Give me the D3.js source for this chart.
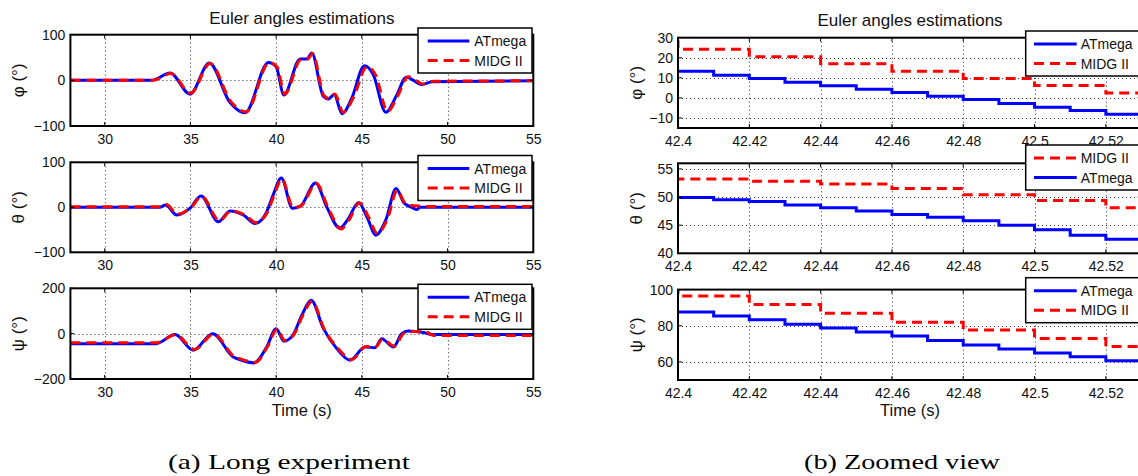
<!DOCTYPE html>
<html><head><meta charset="utf-8">
<script src="https://cdn.jsdelivr.net/npm/d3@7"></script>
<style>body{margin:0;background:#fff} svg{display:block}</style>
</head><body>
<svg id="c" width="1138" height="476"></svg>
<script>
// ---------------- DATA: (a) long experiment ----------------
const longXTicks = [30, 35, 40, 45, 50, 55];
const longXLabels = ["30", "35", "40", "45", "50", "55"];
const angYTicks = [-100, 0, 100];
const angYLabels = ["\u2212100", "0", "100"];
const psiYTicks = [-200, 0, 200];
const psiYLabels = ["\u2212200", "0", "200"];

const phiT_AT   = [28, 32.74, 33.81, 34.98, 36.1, 37.3, 38.19, 39.55, 40.0, 40.45, 41.4, 41.8, 42.08, 42.75, 43.05, 43.38, 43.85, 44.4, 45.15, 45.65, 46.4, 47.0, 47.6, 48.5, 49.1, 55];
const phiV_AT   = [0, 0, 16, -30, 38, -48, -71, 39, 30, -32, 47, 47, 60, -35, -41, -31, -73, -40, 32, 14, -70, -35, 7, -9, -3, -1];
const phiT_MIDG = [28, 32.8, 33.86, 35.02, 36.15, 37.35, 38.25, 39.6, 40.05, 40.5, 41.45, 41.85, 42.12, 42.8, 43.1, 43.42, 43.92, 44.5, 45.3, 45.8, 46.5, 47.1, 47.7, 48.6, 49.2, 55];
const phiV_MIDG = [0, 0, 15, -28, 37, -46, -69, 39, 30, -30, 46, 47, 59, -34, -40, -30, -70, -38, 30, 12, -68, -33, 8, -8, -2, -1];

const thT_AT   = [28, 33.2, 33.56, 34.2, 34.98, 35.62, 36.63, 37.31, 38.09, 38.77, 39.45, 39.85, 40.3, 40.95, 41.4, 42.3, 42.95, 43.7, 44.2, 44.8, 45.35, 45.8, 46.4, 47.0, 47.45, 47.85, 48.2, 48.4, 55];
const thV_AT   = [0, 0, 5, -17, -2, 25, -32, -8, -17, -36, -10, 30, 65, -2, 2, 54, 1, -46, -26, 10, -26, -62, -28, 42, 10, 1, -5, 0, 0];
const thT_MIDG = [28, 33.2, 33.6, 34.25, 35.02, 35.66, 36.7, 37.36, 38.14, 38.85, 39.5, 39.9, 40.33, 41.0, 41.45, 42.35, 43.0, 43.8, 44.25, 44.86, 45.42, 45.9, 46.5, 47.06, 47.5, 47.9, 48.3, 48.6, 55];
const thV_MIDG = [1, 1, 6, -15, -1, 24, -30, -8, -16, -34, -10, 29, 63, -1, 3, 53, 2, -48, -28, 10, -24, -58, -25, 38, 10, 4, 3, 2, 2];

const psT_AT   = [28, 33.0, 34.1, 35.17, 36.3, 37.5, 37.9, 38.71, 39.45, 40.0, 40.46, 40.95, 41.5, 42.04, 42.76, 43.54, 44.31, 45.19, 45.77, 46.16, 46.84, 47.33, 47.71, 48.59, 49.08, 55];
const psV_AT   = [-44, -44, -4, -73, 0, -103, -115, -129, -59, 22, -33, -10, 81, 147, 22, -66, -117, -59, -62, -22, -59, 0, 12, 5, -4, -4];
const psT_MIDG = [28, 33.0, 34.15, 35.25, 36.35, 37.55, 37.95, 38.8, 39.5, 40.05, 40.5, 41.0, 41.55, 42.1, 42.8, 43.6, 44.4, 45.25, 45.8, 46.2, 46.9, 47.4, 47.8, 48.7, 49.2, 55];
const psV_MIDG = [-40, -40, -5, -70, -2, -100, -112, -126, -57, 20, -30, -8, 80, 143, 20, -64, -114, -57, -58, -24, -56, -2, 10, 8, -8, -8];

// ---------------- DATA: (b) zoomed view ----------------
const zoomXTicks = [42.4, 42.42, 42.44, 42.46, 42.48, 42.5, 42.52];
const zoomXLabels = ["42.4", "42.42", "42.44", "42.46", "42.48", "42.5", "42.52"];
const zPhiYTicks = [-10, 0, 10, 20, 30];
const zPhiYLabels = ["\u221210", "0", "10", "20", "30"];
const zThYTicks = [40, 45, 50, 55];
const zThYLabels = ["40", "45", "50", "55"];
const zPsYTicks = [60, 80, 100];
const zPsYLabels = ["60", "80", "100"];

const zT_AT   = [42.40, 42.41, 42.42, 42.43, 42.44, 42.45, 42.46, 42.47, 42.48, 42.49, 42.50, 42.51, 42.52, 42.54];
const zT_MIDG = [42.39, 42.40, 42.42, 42.44, 42.46, 42.48, 42.50, 42.52, 42.54];

const zPhi_AT   = [13.3, 11.3, 9.7, 7.8, 6.0, 4.3, 2.7, 0.8, -0.8, -2.8, -4.7, -6.3, -8.2, -8.2];
const zPhi_MIDG = [28, 24.3, 20.5, 17.0, 13.3, 9.7, 6.2, 2.5, 2.5];
const zTh_AT    = [49.9, 49.5, 49.2, 48.6, 48.1, 47.5, 46.9, 46.4, 45.8, 45.0, 44.2, 43.2, 42.5, 42.5];
const zTh_MIDG  = [53.2, 53.2, 52.8, 52.3, 51.5, 50.4, 49.4, 48.1, 48.1];
const zPs_AT    = [87.6, 85.4, 83.3, 80.9, 78.7, 76.5, 74.3, 71.9, 69.4, 67.2, 65.0, 62.8, 60.6, 60.6];
const zPs_MIDG  = [101, 96.5, 91.7, 86.9, 82.0, 77.6, 73.0, 68.5, 68.5];

const seriesNames = ["ATmega", "MIDG II"];
const chartTitle = "Euler angles estimations";
const xLabel = "Time (s)";
const yLabels = ["\u03c6 (\u00b0)", "\u03b8 (\u00b0)", "\u03c8 (\u00b0)"];
const captions = ["(a) Long experiment", "(b) Zoomed view"];

// ---------------- RENDER ----------------
const SANS = "'Liberation Sans', Arial, Helvetica, sans-serif";
const SERIF = "'Liberation Serif', 'Times New Roman', serif";
const BLUE = "#0000ff", RED = "#ff0000";
const svg = d3.select("#c");
const defs = svg.append("defs");
let clipN = 0;

function zip(ts, vs) { return ts.map((t, i) => ({ t, v: vs[i] })); }

function panel(cfg) {
  const x = d3.scaleLinear().domain(cfg.xDomain).range([cfg.x0, cfg.x1]);
  const y = d3.scaleLinear().domain(cfg.yDomain).range([cfg.y1, cfg.y0]);
  const id = "clip" + (clipN++);
  defs.append("clipPath").attr("id", id).append("rect")
    .attr("x", cfg.x0).attr("y", cfg.y0).attr("width", cfg.x1 - cfg.x0).attr("height", cfg.y1 - cfg.y0);
  const g = svg.append("g");

  // grid
  const grid = g.append("g").attr("stroke", "#333").attr("stroke-width", 1).attr("stroke-dasharray", "1,3");
  grid.selectAll("line.gx").data(cfg.xTicks.filter(d => x(d) > cfg.x0 + 1 && x(d) < cfg.x1 - 1)).join("line")
    .attr("x1", d => Math.round(x(d)) + 0.5).attr("x2", d => Math.round(x(d)) + 0.5).attr("y1", cfg.y0).attr("y2", cfg.y1);
  grid.selectAll("line.gy").data(cfg.yTicks.filter(d => y(d) > cfg.y0 + 1 && y(d) < cfg.y1 - 1)).join("line")
    .attr("y1", d => Math.round(y(d)) + 0.5).attr("y2", d => Math.round(y(d)) + 0.5).attr("x1", cfg.x0).attr("x2", cfg.x1);

  // lines
  const lg = g.append("g").attr("clip-path", `url(#${id})`);
  cfg.series.forEach(s => {
    const line = d3.line().x(d => x(d.t)).y(d => y(d.v)).curve(s.curve);
    lg.append("path").datum(s.data).attr("d", line).attr("fill", "none")
      .attr("stroke", s.color).attr("stroke-width", 3)
      .attr("stroke-dasharray", s.dash ? "10,6" : null);
  });

  // axes labels
  const fmtX = d => cfg.xLabels[cfg.xTicks.indexOf(d)];
  const fmtY = d => cfg.yLabels[cfg.yTicks.indexOf(d)];
  const ax = g.append("g").attr("transform", `translate(0,${cfg.y1})`)
    .call(d3.axisBottom(x).tickValues(cfg.xTicks).tickFormat(fmtX).tickSize(0).tickPadding(8));
  const ay = g.append("g").attr("transform", `translate(${cfg.x0},0)`)
    .call(d3.axisLeft(y).tickValues(cfg.yTicks).tickFormat(fmtY).tickSize(0).tickPadding(5));
  [ax, ay].forEach(a => {
    a.select(".domain").remove();
    a.selectAll("text").attr("font-family", SANS).attr("font-size", 14).attr("fill", "#111");
  });

  // inner tick marks
  const tk = g.append("g").attr("stroke", "#000").attr("stroke-width", 1);
  cfg.xTicks.forEach(d => {
    const xx = x(d);
    tk.append("line").attr("x1", xx).attr("x2", xx).attr("y1", cfg.y1).attr("y2", cfg.y1 - 4);
    tk.append("line").attr("x1", xx).attr("x2", xx).attr("y1", cfg.y0).attr("y2", cfg.y0 + 4);
  });
  cfg.yTicks.forEach(d => {
    const yy = y(d);
    tk.append("line").attr("y1", yy).attr("y2", yy).attr("x1", cfg.x0).attr("x2", cfg.x0 + 4);
    tk.append("line").attr("y1", yy).attr("y2", yy).attr("x1", cfg.x1).attr("x2", cfg.x1 - 4);
  });

  // frame
  g.append("rect").attr("x", cfg.x0).attr("y", cfg.y0).attr("width", cfg.x1 - cfg.x0).attr("height", cfg.y1 - cfg.y0)
    .attr("fill", "none").attr("stroke", "#000").attr("stroke-width", 2);

  // y label
  g.append("text").attr("transform", `translate(${cfg.ylx},${(cfg.y0 + cfg.y1) / 2}) rotate(-90)`)
    .attr("text-anchor", "middle").attr("dominant-baseline", "central")
    .attr("font-family", SANS).attr("font-size", 17).attr("fill", "#111").text(cfg.ylabel);

  // legend
  const L = cfg.legend;
  const lgd = g.append("g");
  lgd.append("rect").attr("x", L.x).attr("y", L.y).attr("width", L.w).attr("height", L.h)
    .attr("fill", "#fff").attr("stroke", "#000").attr("stroke-width", 1.5);
  L.items.forEach((it, i) => {
    const ry = L.y + 13 + i * 19.5;
    lgd.append("line").attr("x1", L.x + L.s0).attr("x2", L.x + L.s1).attr("y1", ry).attr("y2", ry)
      .attr("stroke", it.color).attr("stroke-width", 3).attr("stroke-dasharray", it.dash ? "10,6" : null);
    lgd.append("text").attr("x", L.x + L.tx).attr("y", ry).attr("dominant-baseline", "central")
      .attr("font-family", SANS).attr("font-size", 14).attr("fill", "#111").text(it.name);
  });
}

const sAT = { color: BLUE, dash: false, name: seriesNames[0] };
const sMI = { color: RED, dash: true, name: seriesNames[1] };

// ----- left column -----
const leftPanels = [
  { y0: 34.7, y1: 126, yDomain: [-100, 100], yTicks: angYTicks, yLabels: angYLabels, at: zip(phiT_AT, phiV_AT), mi: zip(phiT_MIDG, phiV_MIDG), ly: 28, label: yLabels[0] },
  { y0: 162.3, y1: 252.3, yDomain: [-100, 100], yTicks: angYTicks, yLabels: angYLabels, at: zip(thT_AT, thV_AT), mi: zip(thT_MIDG, thV_MIDG), ly: 155.5, label: yLabels[1] },
  { y0: 288.3, y1: 379, yDomain: [-200, 200], yTicks: psiYTicks, yLabels: psiYLabels, at: zip(psT_AT, psV_AT), mi: zip(psT_MIDG, psV_MIDG), ly: 284.3, label: yLabels[2] }
];
leftPanels.forEach(p => panel({
  x0: 70.4, x1: 533.3, y0: p.y0, y1: p.y1, xDomain: [28, 55], yDomain: p.yDomain,
  xTicks: longXTicks, xLabels: longXLabels, yTicks: p.yTicks, yLabels: p.yLabels,
  series: [
    { ...sAT, data: p.at, curve: d3.curveMonotoneX },
    { ...sMI, data: p.mi, curve: d3.curveMonotoneX }
  ],
  ylx: 18.5, ylabel: p.label,
  legend: { x: 418, y: p.ly, w: 114, h: 45, s0: 9.7, s1: 51.3, tx: 56.3, items: [sAT, sMI] }
}));

// ----- right column -----
const rightPanels = [
  { y0: 37.7, y1: 128, yDomain: [-15, 30], yTicks: zPhiYTicks, yLabels: zPhiYLabels, at: zPhi_AT, mi: zPhi_MIDG, ly: 31, items: [sAT, sMI], label: yLabels[0] },
  { y0: 163.3, y1: 253.3, yDomain: [40, 56], yTicks: zThYTicks, yLabels: zThYLabels, at: zTh_AT, mi: zTh_MIDG, ly: 145, items: [sMI, sAT], label: yLabels[1] },
  { y0: 289.6, y1: 380, yDomain: [50, 100], yTicks: zPsYTicks, yLabels: zPsYLabels, at: zPs_AT, mi: zPs_MIDG, ly: 277.7, items: [sAT, sMI], label: yLabels[2] }
];
rightPanels.forEach(p => panel({
  x0: 678, x1: 1141.5, y0: p.y0, y1: p.y1, xDomain: [42.4, 42.53], yDomain: p.yDomain,
  xTicks: zoomXTicks, xLabels: zoomXLabels, yTicks: p.yTicks, yLabels: p.yLabels,
  series: [
    { ...sAT, data: zip(zT_AT, p.at), curve: d3.curveStepAfter },
    { ...sMI, data: zip(zT_MIDG, p.mi), curve: d3.curveStepAfter }
  ],
  ylx: 636, ylabel: p.label,
  legend: { x: 1025.7, y: p.ly, w: 125, h: 45, s0: 8.3, s1: 51, tx: 55, items: p.items }
}));

// titles, x labels, captions
[[301.8, 24], [910, 26]].forEach(([cx, cy]) =>
  svg.append("text").attr("x", cx).attr("y", cy).attr("text-anchor", "middle")
    .attr("font-family", SANS).attr("font-size", 17).attr("fill", "#111").text(chartTitle));
[301.8, 910].forEach(cx =>
  svg.append("text").attr("x", cx).attr("y", 416).attr("text-anchor", "middle")
    .attr("font-family", SANS).attr("font-size", 16.5).attr("fill", "#111").text(xLabel));
[[289, 242], [902, 196]].forEach(([cx, w], i) =>
  svg.append("text").attr("x", cx).attr("y", 469).attr("text-anchor", "middle")
    .attr("font-family", SERIF).attr("font-size", 22).attr("fill", "#000")
    .attr("textLength", w).attr("lengthAdjust", "spacingAndGlyphs").text(captions[i]));
</script>
</body></html>
